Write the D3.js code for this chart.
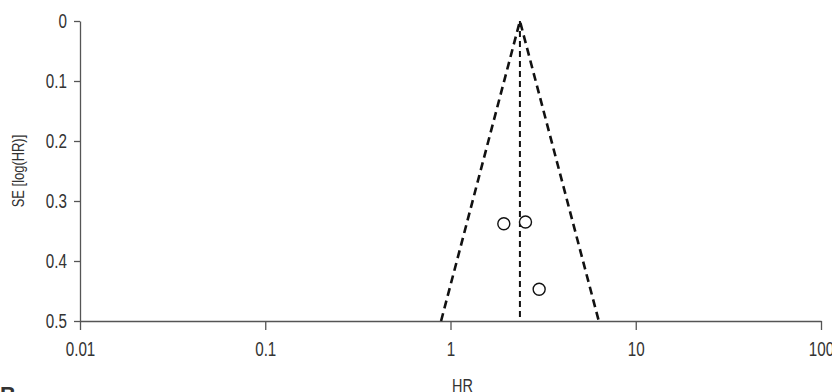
<!DOCTYPE html>
<html>
<head>
<meta charset="utf-8">
<script src="https://cdn.jsdelivr.net/npm/d3@7.9.0/dist/d3.min.js"></script>
<style>
  body { margin: 0; background: #fff; }
  text { font-family: "Liberation Sans", sans-serif; fill: #333; }
</style>
</head>
<body>
<svg id="chart" width="832" height="392"></svg>
<script>
// study estimates
const hr = [1.94, 2.54, 3.01];
const se = [0.338, 0.335, 0.447];
const pooledHR = 2.37;
const seMax = 0.5;

const xTicks = [0.01, 0.1, 1, 10, 100];
const xTickLabels = ['0.01', '0.1', '1', '10', '100'];
const yTicks = [0, 0.1, 0.2, 0.3, 0.4, 0.5];
const yTickLabels = ['0', '0.1', '0.2', '0.3', '0.4', '0.5'];

const margin = { top: 21, right: 11, bottom: 71, left: 80 };
const width = 832 - margin.left - margin.right;
const height = 392 - margin.top - margin.bottom;

const svg = d3.select('#chart');
const g = svg.append('g').attr('transform', `translate(${margin.left},${margin.top})`);

let x = d3.scaleLog().domain([0.01, 100]).range([0, width]);
let y = d3.scaleLinear().domain([0, 0.5]).range([0, height]);

// squeeze text horizontally to mimic the condensed face
function condense(sel, k = 0.76) {
  sel.each(function () {
    let len = this.getComputedTextLength();
    d3.select(this).attr('textLength', len * k).attr('lengthAdjust', 'spacingAndGlyphs');
  });
}

// axes
let xAxis = d3.axisBottom(x).tickValues(xTicks)
  .tickFormat((d, i) => xTickLabels[i]).tickSize(9).tickSizeOuter(0).tickPadding(12);
let yAxis = d3.axisLeft(y).tickValues(yTicks)
  .tickFormat((d, i) => yTickLabels[i]).tickSize(6).tickSizeOuter(0).tickPadding(7);

let gx = g.append('g').attr('transform', `translate(0,${height})`).call(xAxis);
let gy = g.append('g').call(yAxis);
[gx, gy].forEach((ax) => {
  ax.selectAll('path, line').attr('stroke', '#555').attr('stroke-width', 1.3);
  ax.selectAll('text').attr('font-size', 20).attr('fill', '#3a3a3a')
    .style('font-family', '"Liberation Sans", sans-serif');
  condense(ax.selectAll('text'));
});

// funnel (pseudo 95% CI)
const z = 1.96;
let funnel = [
  [pooledHR * Math.exp(-z * seMax), seMax],
  [pooledHR, 0],
  [pooledHR * Math.exp(z * seMax), seMax],
];
g.append('path')
  .attr('d', d3.line().x((d) => x(d[0])).y((d) => y(d[1]))(funnel))
  .attr('fill', 'none')
  .attr('stroke', '#111')
  .attr('stroke-width', 2.6)
  .attr('stroke-dasharray', '8,5');

// pooled estimate
g.append('line')
  .attr('x1', x(pooledHR)).attr('x2', x(pooledHR))
  .attr('y1', y(0)).attr('y2', y(seMax) - 3)
  .attr('stroke', '#111')
  .attr('stroke-width', 2)
  .attr('stroke-dasharray', '6,4');

// studies
g.selectAll('circle')
  .data(hr.map((d, i) => ({ hr: d, se: se[i] })))
  .join('circle')
  .attr('cx', (d) => x(d.hr))
  .attr('cy', (d) => y(d.se))
  .attr('r', 6)
  .attr('fill', '#fff')
  .attr('stroke', '#111')
  .attr('stroke-width', 1.4);

// labels
svg.append('text')
  .attr('x', margin.left + width / 2 + 12)
  .attr('y', 392)
  .attr('text-anchor', 'middle')
  .attr('font-size', 19)
  .attr('fill', '#3a3a3a')
  .text('HR')
  .call(condense);

svg.append('text')
  .attr('transform', `translate(24,${margin.top + y(0.25)}) rotate(-90)`)
  .attr('text-anchor', 'middle')
  .attr('font-size', 17)
  .attr('fill', '#3a3a3a')
  .text('SE [log(HR)]')
  .call(condense);

svg.append('text')
  .attr('x', 0)
  .attr('y', 402)
  .attr('font-size', 22)
  .attr('font-weight', 'bold')
  .text('B');
</script>
</body>
</html>
